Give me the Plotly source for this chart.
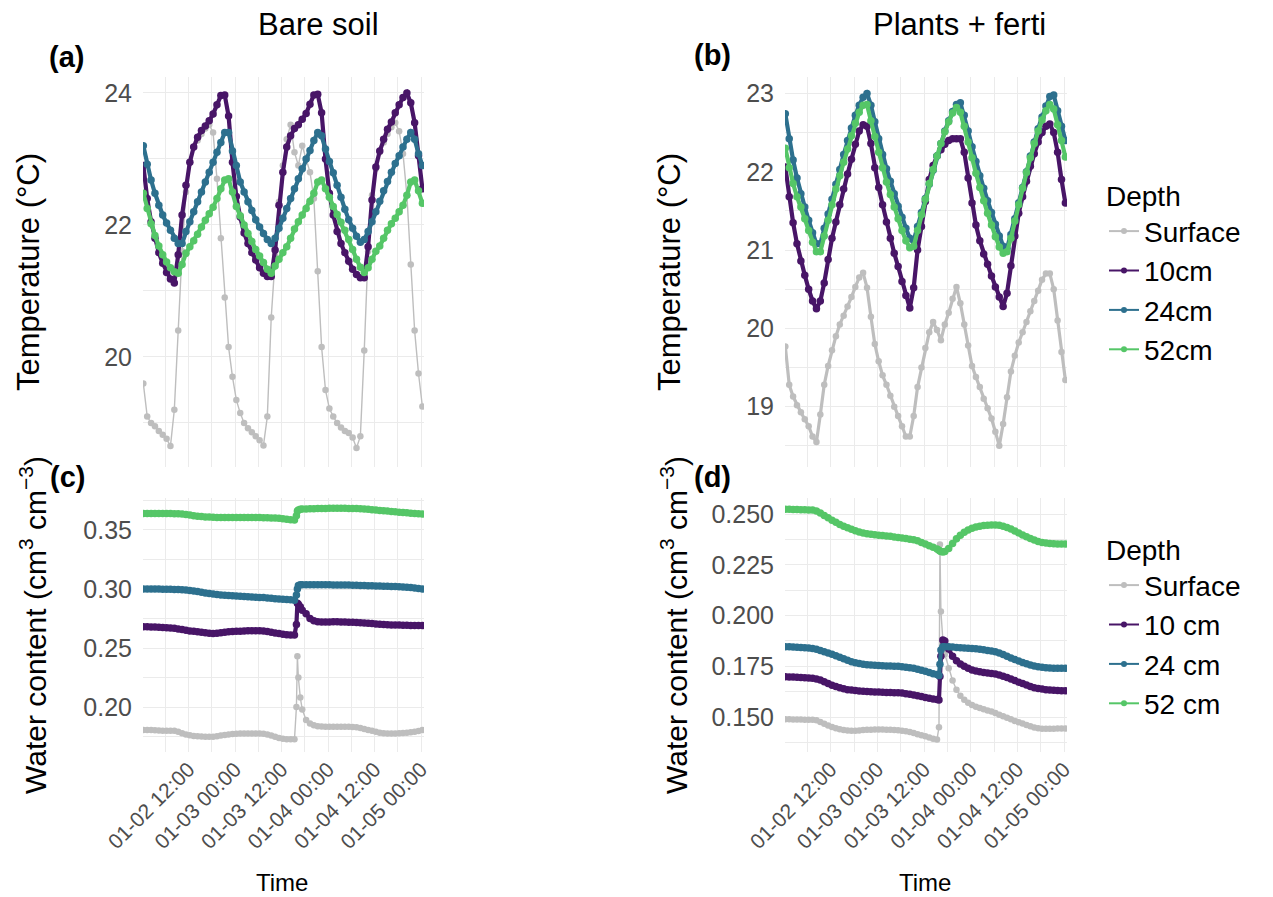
import pandas as pd
import plotly.graph_objects as go

W, H = 1273, 897          # browser window (reference pixels)
OFF = 8                   # page body margin
FW, FH = W - OFF, H - OFF  # figure size so that it fits the window exactly
START = pd.Timestamp("2021-01-02 00:20")

# ---------------- data ----------------
TEMP_HOURS = list(range(73))
WATER_HOURS = list(range(40)) + [39.5, 39.75, 40, 40.5, 41] + list(range(42, 73))

DEPTHS_T = ["Surface", "10cm", "24cm", "52cm"]
DEPTHS_W = ["Surface", "10 cm", "24 cm", "52 cm"]
COLORS = ["#BEBEBE", "#481567", "#2D708E", "#55C667"]

# (a) Bare soil temperature
A_SURF = [19.60, 19.10, 19.00, 18.95, 18.88, 18.82, 18.76, 18.65, 19.20, 20.40, 21.60, 22.50,
          22.95, 23.18, 23.28, 23.38, 23.46, 23.52, 23.40, 22.70, 21.80, 20.90, 20.15, 19.70,
          19.35, 19.15, 19.00, 18.92, 18.86, 18.80, 18.74, 18.66, 19.10, 20.60, 21.55, 22.35,
          22.90, 23.30, 23.52, 23.10, 22.90, 23.20, 23.00, 22.80, 22.40, 21.30, 20.15, 19.50,
          19.22, 19.10, 19.00, 18.93, 18.88, 18.85, 18.78, 18.62, 18.80, 20.10, 21.60, 22.45,
          22.85, 23.10, 23.25, 23.38, 23.48, 23.55, 23.42, 23.08, 22.45, 21.40, 20.40, 19.75, 19.25]
A_10 = [22.90, 22.40, 22.05, 21.80, 21.58, 21.42, 21.28, 21.18, 21.12, 21.55, 22.15, 22.60,
        22.95, 23.18, 23.33, 23.43, 23.50, 23.58, 23.68, 23.82, 23.96, 23.97, 23.65, 22.95,
        22.43, 22.12, 21.88, 21.72, 21.58, 21.47, 21.35, 21.27, 21.22, 21.22, 21.62, 22.30,
        22.80, 23.18, 23.35, 23.46, 23.52, 23.60, 23.69, 23.83, 23.97, 23.98, 23.70, 23.00,
        22.48, 22.15, 21.90, 21.72, 21.58, 21.45, 21.33, 21.25, 21.20, 21.20, 21.67, 22.38,
        22.88, 23.12, 23.30, 23.45, 23.56, 23.70, 23.82, 23.93, 24.00, 23.85, 23.55, 23.05, 22.55]
A_24 = [23.20, 22.92, 22.68, 22.48, 22.30, 22.15, 22.03, 21.92, 21.80, 21.72, 21.72, 21.90,
        22.05, 22.20, 22.35, 22.50, 22.65, 22.80, 22.95, 23.10, 23.25, 23.40, 23.40, 23.12,
        22.90, 22.65, 22.50, 22.35, 22.22, 22.08, 21.97, 21.87, 21.78, 21.72, 21.80, 21.95,
        22.10, 22.25, 22.40, 22.55, 22.70, 22.85, 23.00, 23.13, 23.28, 23.40, 23.35, 23.15,
        22.96, 22.79, 22.60, 22.42, 22.24, 22.08, 21.95, 21.83, 21.74, 21.78, 21.90, 22.05,
        22.20, 22.36, 22.52, 22.66, 22.80, 22.93, 23.05, 23.18, 23.30, 23.40, 23.30, 23.08, 22.90]
A_52 = [22.48, 22.25, 22.02, 21.84, 21.68, 21.55, 21.44, 21.35, 21.29, 21.27, 21.40, 21.57,
        21.67, 21.76, 21.86, 21.97, 22.07, 22.17, 22.27, 22.40, 22.55, 22.68, 22.70, 22.50,
        22.28, 22.14, 22.00, 21.87, 21.75, 21.63, 21.53, 21.43, 21.33, 21.27, 21.38, 21.48,
        21.58, 21.67, 21.80, 21.94, 22.05, 22.15, 22.25, 22.36, 22.48, 22.65, 22.68, 22.55,
        22.42, 22.28, 22.16, 22.04, 21.92, 21.78, 21.63, 21.48, 21.36, 21.28, 21.35, 21.48,
        21.60, 21.68, 21.80, 21.92, 22.02, 22.10, 22.20, 22.30, 22.45, 22.65, 22.68, 22.52, 22.33]

# (b) Plants + ferti temperature
B_SURF = [19.77, 19.28, 19.13, 19.02, 18.93, 18.84, 18.75, 18.62, 18.55, 18.90, 19.28, 19.52,
          19.72, 19.90, 20.05, 20.16, 20.28, 20.40, 20.53, 20.65, 20.71, 20.52, 20.15, 19.80,
          19.58, 19.40, 19.28, 19.14, 19.00, 18.88, 18.75, 18.62, 18.62, 18.88, 19.25, 19.50,
          19.75, 19.95, 20.08, 19.98, 19.85, 20.05, 20.20, 20.38, 20.53, 20.32, 20.05, 19.78,
          19.52, 19.38, 19.25, 19.10, 18.98, 18.85, 18.68, 18.50, 18.78, 19.12, 19.45, 19.65,
          19.82, 19.95, 20.08, 20.22, 20.35, 20.48, 20.62, 20.70, 20.70, 20.50, 20.10, 19.70, 19.34]
B_10 = [22.06, 21.68, 21.35, 21.08, 20.86, 20.68, 20.50, 20.35, 20.25, 20.35, 20.58, 20.88,
        21.15, 21.36, 21.58, 21.78, 21.97, 22.16, 22.35, 22.52, 22.60, 22.58, 22.36, 22.05,
        21.80, 21.58, 21.36, 21.15, 20.96, 20.79, 20.60, 20.42, 20.26, 20.52, 21.00, 21.30,
        21.62, 21.90, 22.08, 22.20, 22.28, 22.35, 22.40, 22.42, 22.42, 22.42, 22.25, 21.92,
        21.60, 21.32, 21.12, 20.95, 20.82, 20.67, 20.53, 20.40, 20.28, 20.45, 20.80, 21.18,
        21.47, 21.68, 21.88, 22.07, 22.23, 22.38, 22.50, 22.58, 22.61, 22.50, 22.25, 21.90, 21.60]
B_24 = [22.74, 22.42, 22.15, 21.92, 21.72, 21.55, 21.38, 21.22, 21.08, 21.08, 21.28, 21.46,
        21.65, 21.84, 22.03, 22.22, 22.40, 22.56, 22.72, 22.85, 22.95, 23.00, 22.85, 22.64,
        22.42, 22.22, 22.04, 21.88, 21.72, 21.56, 21.42, 21.28, 21.15, 21.12, 21.30, 21.48,
        21.66, 21.84, 22.02, 22.20, 22.36, 22.52, 22.65, 22.77, 22.86, 22.88, 22.72, 22.52,
        22.32, 22.13, 21.95, 21.79, 21.63, 21.48, 21.33, 21.18, 21.05, 21.02, 21.20, 21.40,
        21.60, 21.80, 22.00, 22.20, 22.38, 22.55, 22.70, 22.84, 22.96, 22.98, 22.78, 22.58, 22.40]
B_52 = [22.30, 22.05, 21.85, 21.68, 21.55, 21.40, 21.25, 21.10, 20.98, 20.98, 21.18, 21.38,
        21.58, 21.78, 21.95, 22.12, 22.29, 22.46, 22.62, 22.76, 22.85, 22.86, 22.65, 22.45,
        22.25, 22.05, 21.87, 21.71, 21.55, 21.40, 21.25, 21.12, 21.03, 21.05, 21.25, 21.45,
        21.65, 21.85, 22.03, 22.20, 22.36, 22.51, 22.64, 22.75, 22.82, 22.76, 22.58, 22.38,
        22.18, 21.98, 21.80, 21.63, 21.47, 21.32, 21.17, 21.04, 20.96, 20.98, 21.15, 21.37,
        21.58, 21.79, 21.99, 22.18, 22.36, 22.52, 22.66, 22.78, 22.86, 22.80, 22.60, 22.40, 22.19]

# (c) Bare soil water content
C_SURF = [0.1805, 0.1805, 0.1805, 0.1803, 0.1802, 0.1800, 0.1800, 0.1800, 0.1798, 0.1790, 0.1778, 0.1767,
          0.1760, 0.1755, 0.1752, 0.1750, 0.1748, 0.1748, 0.1748, 0.1752, 0.1758, 0.1764, 0.1768, 0.1771,
          0.1773, 0.1775, 0.1776, 0.1776, 0.1776, 0.1776, 0.1776, 0.1774, 0.1768, 0.1758, 0.1748, 0.1738,
          0.1731, 0.1727, 0.1726, 0.1726,
          0.2000, 0.2430, 0.2250, 0.2080, 0.1980,
          0.1890, 0.1860, 0.1845, 0.1838, 0.1835, 0.1833, 0.1832, 0.1832, 0.1832, 0.1832, 0.1832, 0.1832,
          0.1831, 0.1828, 0.1822, 0.1814, 0.1806, 0.1798, 0.1790, 0.1782, 0.1777, 0.1775, 0.1775, 0.1776,
          0.1778, 0.1780, 0.1783, 0.1786, 0.1790, 0.1797, 0.1805]
C_10 = [0.2680, 0.2680, 0.2679, 0.2678, 0.2676, 0.2674, 0.2672, 0.2670, 0.2667, 0.2662, 0.2656, 0.2650,
        0.2645, 0.2641, 0.2638, 0.2634, 0.2630, 0.2626, 0.2624, 0.2626, 0.2630, 0.2634, 0.2637, 0.2639,
        0.2641, 0.2643, 0.2645, 0.2646, 0.2647, 0.2647, 0.2646, 0.2645, 0.2640, 0.2633, 0.2627, 0.2622,
        0.2617, 0.2613, 0.2610, 0.2610,
        0.2700, 0.2880, 0.2870, 0.2850, 0.2820,
        0.2790, 0.2750, 0.2730, 0.2722, 0.2720, 0.2720, 0.2721, 0.2722, 0.2722, 0.2721, 0.2720, 0.2719,
        0.2718, 0.2716, 0.2714, 0.2712, 0.2710, 0.2707, 0.2704, 0.2701, 0.2699, 0.2697, 0.2696, 0.2695,
        0.2694, 0.2693, 0.2692, 0.2691, 0.2690, 0.2690, 0.2690]
C_24 = [0.3000, 0.3000, 0.3000, 0.2999, 0.2999, 0.2998, 0.2998, 0.2997, 0.2996, 0.2995, 0.2994, 0.2992,
        0.2988, 0.2983, 0.2978, 0.2972, 0.2967, 0.2962, 0.2958, 0.2954, 0.2950, 0.2947, 0.2945, 0.2943,
        0.2941, 0.2939, 0.2937, 0.2935, 0.2933, 0.2931, 0.2929, 0.2927, 0.2924, 0.2921, 0.2918, 0.2916,
        0.2914, 0.2912, 0.2908, 0.2905,
        0.2950, 0.3000, 0.3030, 0.3035, 0.3035,
        0.3036, 0.3036, 0.3036, 0.3035, 0.3035, 0.3035, 0.3035, 0.3034, 0.3034, 0.3034, 0.3033, 0.3033,
        0.3032, 0.3031, 0.3030, 0.3029, 0.3028, 0.3027, 0.3026, 0.3025, 0.3024, 0.3023, 0.3022, 0.3021,
        0.3020, 0.3018, 0.3015, 0.3012, 0.3008, 0.3004, 0.3000]
C_52 = [0.3640, 0.3640, 0.3640, 0.3640, 0.3640, 0.3640, 0.3640, 0.3639, 0.3638, 0.3637, 0.3635, 0.3631,
        0.3626, 0.3621, 0.3617, 0.3614, 0.3611, 0.3609, 0.3607, 0.3606, 0.3605, 0.3605, 0.3605, 0.3605,
        0.3605, 0.3605, 0.3605, 0.3605, 0.3605, 0.3605, 0.3605, 0.3604, 0.3603, 0.3602, 0.3601, 0.3599,
        0.3596, 0.3592, 0.3587, 0.3585,
        0.3620, 0.3660, 0.3670, 0.3675, 0.3677,
        0.3678, 0.3679, 0.3680, 0.3681, 0.3682, 0.3683, 0.3684, 0.3684, 0.3684, 0.3684, 0.3684, 0.3683,
        0.3682, 0.3681, 0.3680, 0.3678, 0.3675, 0.3672, 0.3669, 0.3666, 0.3663, 0.3660, 0.3657, 0.3654,
        0.3651, 0.3648, 0.3645, 0.3642, 0.3640, 0.3638, 0.3636]

# (d) Plants + ferti water content
D_SURF = [0.1489, 0.1489, 0.1488, 0.1488, 0.1488, 0.1487, 0.1487, 0.1487, 0.1484, 0.1476, 0.1467, 0.1458,
          0.1451, 0.1445, 0.1440, 0.1436, 0.1434, 0.1433, 0.1433, 0.1434, 0.1436, 0.1437, 0.1438, 0.1439,
          0.1439, 0.1439, 0.1438, 0.1437, 0.1436, 0.1435, 0.1433, 0.1430, 0.1426, 0.1421, 0.1416, 0.1411,
          0.1405, 0.1399, 0.1393, 0.1390,
          0.1450, 0.2350, 0.2020, 0.1880, 0.1810,
          0.1740, 0.1680, 0.1635, 0.1605, 0.1585, 0.1570, 0.1559, 0.1551, 0.1545, 0.1539, 0.1533, 0.1527,
          0.1520, 0.1512, 0.1504, 0.1497, 0.1489, 0.1481, 0.1474, 0.1468, 0.1461, 0.1455, 0.1449, 0.1445,
          0.1443, 0.1443, 0.1443, 0.1443, 0.1444, 0.1444, 0.1444]
D_10 = [0.1699, 0.1698, 0.1697, 0.1696, 0.1695, 0.1694, 0.1693, 0.1691, 0.1688, 0.1682, 0.1674, 0.1665,
        0.1657, 0.1650, 0.1644, 0.1639, 0.1635, 0.1633, 0.1631, 0.1629, 0.1627, 0.1626, 0.1625, 0.1624,
        0.1623, 0.1622, 0.1621, 0.1621, 0.1620, 0.1620, 0.1618, 0.1615, 0.1612, 0.1609, 0.1605, 0.1601,
        0.1597, 0.1593, 0.1589, 0.1586,
        0.1584, 0.1700, 0.1800, 0.1880, 0.1875,
        0.1835, 0.1800, 0.1778, 0.1762, 0.1750, 0.1740, 0.1732, 0.1727, 0.1723, 0.1720, 0.1717, 0.1715,
        0.1712, 0.1707, 0.1701, 0.1695, 0.1688, 0.1680, 0.1672, 0.1665, 0.1658, 0.1651, 0.1645, 0.1641,
        0.1638, 0.1635, 0.1633, 0.1632, 0.1631, 0.1630, 0.1630]
D_24 = [0.1846, 0.1846, 0.1845, 0.1844, 0.1843, 0.1842, 0.1840, 0.1838, 0.1834, 0.1828, 0.1822, 0.1816,
        0.1810, 0.1802, 0.1795, 0.1787, 0.1780, 0.1773, 0.1768, 0.1764, 0.1760, 0.1758, 0.1756, 0.1755,
        0.1754, 0.1753, 0.1752, 0.1751, 0.1750, 0.1750, 0.1748, 0.1746, 0.1743, 0.1740, 0.1736, 0.1731,
        0.1726, 0.1720, 0.1714, 0.1710,
        0.1705, 0.1760, 0.1830, 0.1846, 0.1846,
        0.1846, 0.1845, 0.1843, 0.1841, 0.1840, 0.1839, 0.1838, 0.1836, 0.1834, 0.1831, 0.1828, 0.1825,
        0.1822, 0.1816, 0.1808, 0.1800, 0.1791, 0.1783, 0.1776, 0.1769, 0.1763, 0.1757, 0.1752, 0.1748,
        0.1745, 0.1743, 0.1742, 0.1741, 0.1740, 0.1740, 0.1740]
D_52 = [0.2523, 0.2523, 0.2522, 0.2522, 0.2521, 0.2521, 0.2520, 0.2520, 0.2515, 0.2505, 0.2493, 0.2482,
        0.2470, 0.2459, 0.2449, 0.2440, 0.2432, 0.2425, 0.2418, 0.2412, 0.2407, 0.2403, 0.2400, 0.2398,
        0.2396, 0.2394, 0.2392, 0.2390, 0.2387, 0.2385, 0.2382, 0.2379, 0.2376, 0.2373, 0.2368, 0.2360,
        0.2352, 0.2344, 0.2336, 0.2328,
        0.2322, 0.2318, 0.2315, 0.2313, 0.2315,
        0.2330, 0.2355, 0.2378, 0.2395, 0.2410, 0.2422, 0.2430, 0.2436, 0.2440, 0.2443, 0.2445, 0.2446,
        0.2446, 0.2445, 0.2440, 0.2434, 0.2426, 0.2417, 0.2407, 0.2397, 0.2388, 0.2380, 0.2372, 0.2365,
        0.2360, 0.2357, 0.2355, 0.2354, 0.2353, 0.2352, 0.2352]

X_TICKS = ["2021-01-02 12:00", "2021-01-03 00:00", "2021-01-03 12:00",
           "2021-01-04 00:00", "2021-01-04 12:00", "2021-01-05 00:00"]
X_RANGE = ["2021-01-02 00:15", "2021-01-05 00:45"]

# ---------------- layout helpers ----------------
FONT = "Liberation Sans, Arial, sans-serif"
GRID = "#EBEBEB"
TICK_COL = "#4D4D4D"


def px(x):
    """reference window pixel -> paper fraction"""
    return (x - OFF) / FW


def py(y):
    return 1 - (y - OFF) / FH


temp_times = [START + pd.Timedelta(hours=h) for h in TEMP_HOURS]
water_times = [START + pd.Timedelta(hours=h) for h in WATER_HOURS]

fig = go.Figure()

# grey line width per panel: thin where the surface series has steep jumps
SURF_WIDTH = {"x": 1.4, "x2": 3.2, "x3": 1.4, "x4": 1.4}

panels = [
    ("x", "y", temp_times, [A_SURF, A_10, A_24, A_52]),
    ("x2", "y2", temp_times, [B_SURF, B_10, B_24, B_52]),
    ("x3", "y3", water_times, [C_SURF, C_10, C_24, C_52]),
    ("x4", "y4", water_times, [D_SURF, D_10, D_24, D_52]),
]
for xa, ya, times, series in panels:
    for i, vals in enumerate(series):
        fig.add_trace(go.Scatter(
            x=times, y=vals, mode="lines+markers", showlegend=False,
            xaxis=xa, yaxis=ya,
            line=dict(color=COLORS[i], width=SURF_WIDTH[xa] if i == 0 else 4.2),
            marker=dict(color=COLORS[i], size=6.5 if i == 0 else 7.5),
        ))

# legend keys (thin line + small dot, as in the reference key)
for leg, names, ya in (("legend", DEPTHS_T, "y"), ("legend2", DEPTHS_W, "y3")):
    for i, name in enumerate(names):
        fig.add_trace(go.Scatter(
            x=[None], y=[None], name=name, mode="lines+markers", legend=leg,
            xaxis="x" if ya == "y" else "x3", yaxis=ya,
            line=dict(color=COLORS[i], width=2),
            marker=dict(color=COLORS[i], size=6),
        ))

XD_L = [px(143), px(424)]
XD_R = [px(785), px(1067)]
YD_T = [py(467), py(77)]
YD_B = [py(752), py(498)]


def xaxis(domain, anchor, labels):
    return dict(
        domain=domain, anchor=anchor, type="date", range=X_RANGE, automargin=False,
        tickmode="array", tickvals=X_TICKS, tickformat="%m-%d %H:%M",
        showticklabels=labels, tickangle=-45,
        tickfont=dict(family=FONT, size=21, color=TICK_COL),
        showgrid=True, gridcolor=GRID, gridwidth=1.2, zeroline=False, showline=False,
        ticks="",
        minor=dict(dtick=6 * 3600 * 1000, tick0="2021-01-02 00:00", showgrid=True,
                   gridcolor=GRID, gridwidth=0.7, ticks=""),
    )


def yaxis(domain, anchor, rng, tick0, dtick, fmt):
    return dict(
        domain=domain, anchor=anchor, range=rng, tick0=tick0, dtick=dtick, automargin=False,
        tickformat=fmt, tickfont=dict(family=FONT, size=25, color=TICK_COL),
        showgrid=True, gridcolor=GRID, gridwidth=1.2, zeroline=False, showline=False,
        ticks="", ticklabelstandoff=10,
        minor=dict(dtick=dtick / 2, tick0=tick0, showgrid=True, gridcolor=GRID,
                   gridwidth=0.7, ticks=""),
    )


annotations = []


def ann(text, x, y, size, bold=False, angle=0, color="black"):
    annotations.append(dict(
        text=f"<b>{text}</b>" if bold else text, x=px(x), y=py(y),
        xref="paper", yref="paper", showarrow=False, textangle=angle,
        xanchor="center", yanchor="middle",
        font=dict(family=FONT, size=size, color=color)))


ann("Bare soil", 318, 24, 31)
ann("Plants + ferti", 959, 24, 31)
ann("(a)", 66, 57, 29, bold=True)
ann("(b)", 712, 55, 29, bold=True)
ann("(c)", 68, 477, 29, bold=True)
ann("(d)", 712, 477, 29, bold=True)
ann("Temperature (°C)", 28, 272, 31, angle=-90)
ann("Temperature (°C)", 669, 272, 31, angle=-90)
ann("Water content (cm<sup>3</sup> cm<sup>−3</sup>)", 33, 625, 30, angle=-90)
ann("Water content (cm<sup>3</sup> cm<sup>−3</sup>)", 674, 625, 30, angle=-90)
ann("Time", 282, 882, 24)
ann("Time", 925, 882, 24)

legend_style = dict(
    xanchor="left", yanchor="top", bgcolor="rgba(255,255,255,0)", borderwidth=0,
    font=dict(family=FONT, size=28, color="black"), itemwidth=30,
    title=dict(text="Depth", font=dict(family=FONT, size=28, color="black")),
)

fig.update_layout(
    width=FW, height=FH, autosize=False,
    margin=dict(l=0, r=0, t=0, b=0, pad=0, autoexpand=False),
    paper_bgcolor="white", plot_bgcolor="white",
    font=dict(family=FONT),
    xaxis=xaxis(XD_L, "y", False),
    yaxis=yaxis(YD_T, "x", [18.333, 24.242], 20, 2, "d"),
    xaxis2=xaxis(XD_R, "y2", False),
    yaxis2=yaxis(YD_T, "x2", [18.23, 23.21], 19, 1, "d"),
    xaxis3=xaxis(XD_L, "y3", True),
    yaxis3=yaxis(YD_B, "x3", [0.1619, 0.3771], 0.2, 0.05, ".2f"),
    xaxis4=xaxis(XD_R, "y4", True),
    yaxis4=yaxis(YD_B, "x4", [0.1328, 0.2579], 0.15, 0.025, ".3f"),
    legend=dict(x=px(1104), y=py(170), **legend_style),
    legend2=dict(x=px(1104), y=py(524), **legend_style),
    annotations=annotations,
    showlegend=True,
)

fig.write_html("out.html")
